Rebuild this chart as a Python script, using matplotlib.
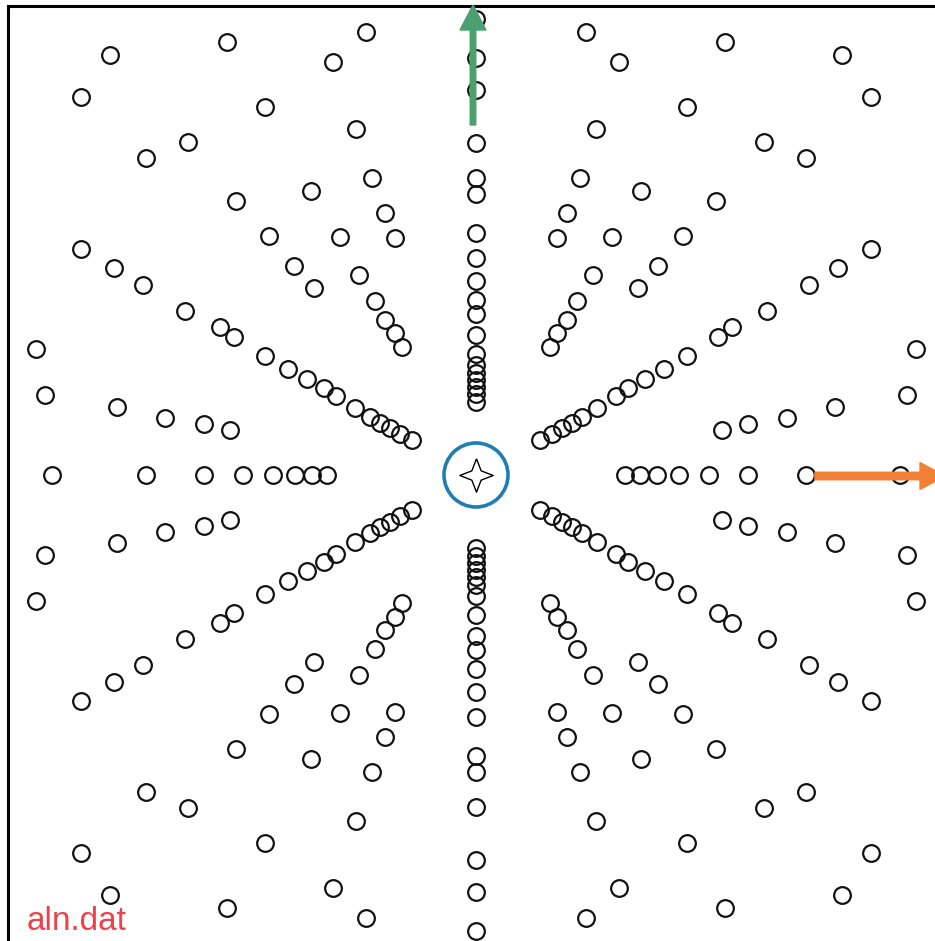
import matplotlib.pyplot as plt
from matplotlib.patches import Circle
import numpy as np

# puntos del primer cuadrante (se reflejan a los otros tres)
quad_x = [7.4, 8.1, 9.1, 10.1, 11.7, 13.6, 16.5, 21.1, 24.9,      # rayo ~60
          8.1, 9.1, 10.4, 12.0, 14.3,                             # rayo ~71
          11.0,
          16.2, 18.2, 20.7, 24.0, 28.8, 36.6,                     # rayo ~49
          33.0, 39.5,
          6.4, 7.6, 8.6, 9.6, 10.6, 12.1, 14.0, 15.2, 16.9, 18.8,
          21.1, 24.2, 25.6, 29.1, 33.3, 36.2, 39.5,               # rayo ~30
          44.0,
          24.6, 27.2, 31.1, 35.9, 43.1]                           # rayo ~10
quad_y = [12.8, 14.2, 15.5, 17.4, 20.0, 23.8, 28.4, 36.8, 43.3,
          23.7, 26.2, 29.7, 34.6, 41.3,
          44.3,
          18.7, 20.9, 23.9, 27.4, 33.3, 42.0,
          31.7, 37.8,
          3.5, 4.1, 4.7, 5.2, 5.8, 6.7, 7.9, 8.7, 9.6, 10.6,
          11.9, 13.8, 14.8, 16.4, 19.0, 20.7, 22.6,
          12.6,
          4.5, 5.1, 5.7, 6.8, 8.0]

# puntos sobre los ejes (lado positivo)
axis_y = [7.3, 8.1, 8.8, 9.5, 10.2, 11.0, 12.1, 14.0, 16.1, 17.5,
          19.4, 21.7, 24.2, 28.1, 29.7, 33.2, 38.5, 41.7, 45.6]
axis_x = [14.9, 16.4, 18.1, 20.3, 23.3, 27.2, 33.0, 42.4]

fig = plt.figure(figsize=(9.35, 9.41), dpi=100)
ax = fig.add_axes([8/935, -3/941, 936/935, 938/941])
ax.set_xlim(-46.8, 46.8)
ax.set_ylim(-46.9, 46.9)
ax.set_xticks([])
ax.set_yticks([])
for s in ax.spines.values():
    s.set_linewidth(2.2)
    s.set_color('k')

qx = np.array(quad_x)
qy = np.array(quad_y)
ay = np.array(axis_y)
axx = np.array(axis_x)

estilo = dict(linestyle='none', marker='o', markersize=12, markerfacecolor='none',
              markeredgecolor='#111111', markeredgewidth=1.6, zorder=2)
for sx in (1, -1):
    for sy in (1, -1):
        ax.plot(sx*qx, sy*qy, **estilo)
ax.plot(np.zeros(len(ay)), ay, **estilo)
ax.plot(np.zeros(len(ay)), -ay, **estilo)
ax.plot(axx, np.zeros(len(axx)), **estilo)
ax.plot(-axx, np.zeros(len(axx)), **estilo)

# estrella central y circulo
r = 0.28
estrella = [(0, 1), (r, r), (1, 0), (r, -r), (0, -1), (-r, -r), (-1, 0), (-r, r), (0, 1)]
ax.plot(0, 0, linestyle='none', marker=estrella, markersize=24, markerfacecolor='white',
        markeredgecolor='k', markeredgewidth=1.0, zorder=3)
ax.add_patch(Circle((0, 0), 3.2, fill=False, edgecolor='#1f7db6', linewidth=2.6, zorder=3))

# flechas
ax.arrow(-0.3, 35.0, 0, 12.0, width=0.55, head_width=2.6, head_length=2.5,
         length_includes_head=True, color='#4c9f6f', zorder=4, clip_on=False)
ax.arrow(33.9, -0.1, 13.0, 0, width=0.75, head_width=2.7, head_length=2.5,
         length_includes_head=True, color='#f28034', zorder=4, clip_on=False)

fig.text(27/935, 11/941, 'aln.dat', color='#f0404a', fontsize=24,
         family='Liberation Sans', va='baseline', ha='left')

plt.savefig('out.png', dpi=100)
